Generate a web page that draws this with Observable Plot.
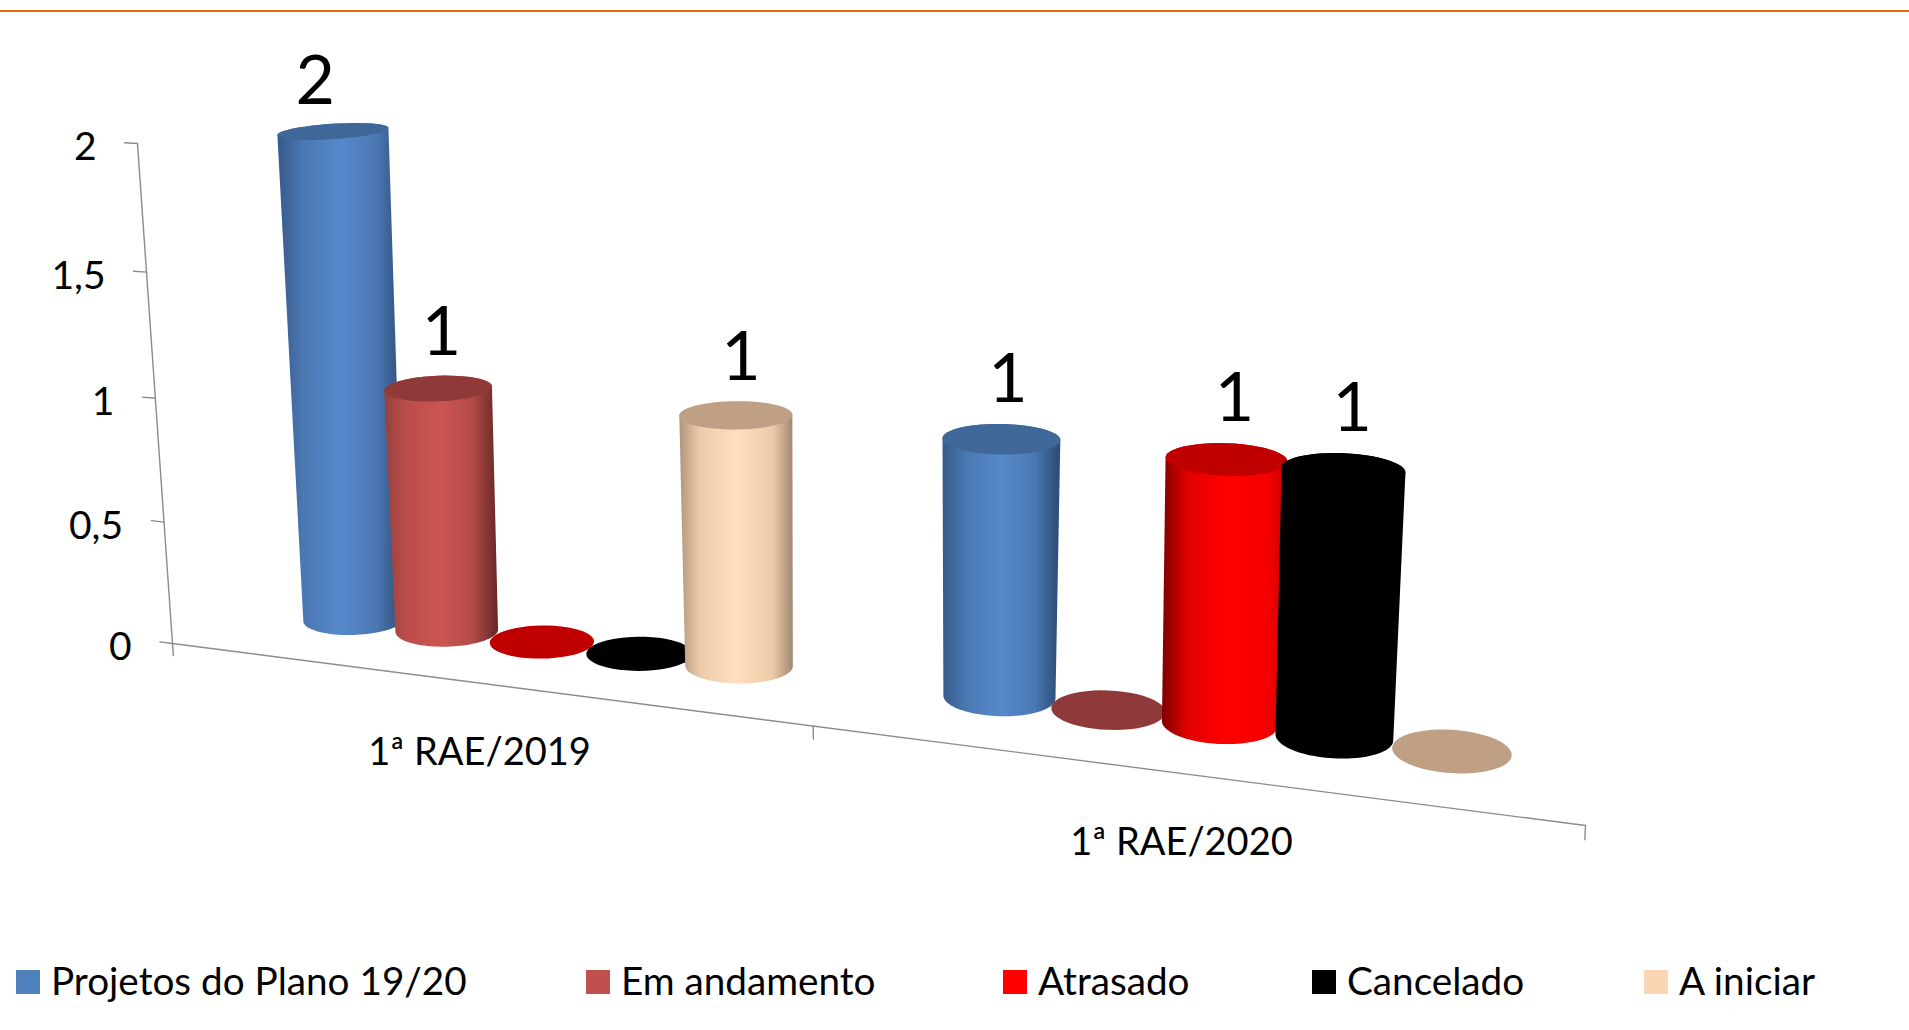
<!DOCTYPE html>
<html lang="pt">
<head>
<meta charset="utf-8">
<title>Projetos do Plano 19/20</title>
<script src="https://cdn.jsdelivr.net/npm/d3@7"></script>
<script src="https://cdn.jsdelivr.net/npm/@observablehq/plot@0.6"></script>
<style>
  html, body { margin: 0; padding: 0; background: #fff; overflow: hidden; }
  #page { position: relative; width: 1909px; height: 1030px; font-family: Lato, sans-serif; color: #000; }
  #rule { position: absolute; left: 0; top: 10px; width: 100%; height: 2px; background: #E36C09; }
  #chart svg { display: block; position: absolute; left: 0; top: 0; }
  .key { position: absolute; top: 970px; height: 24px; }
  .key i { position: absolute; left: 0; top: 0; width: 24px; height: 24px; }
  .key span { position: absolute; left: 35px; top: -12px; font-size: 38.7px; line-height: 44px; white-space: nowrap; }
</style>
</head>
<body>
<div id="page">
  <div id="chart"></div>
  <div id="rule"></div>
  <div id="legend"></div>
</div>
<script>
// ---- data ----
const categories = ["1ª RAE/2019", "1ª RAE/2020"];
const seriesNames = ["Projetos do Plano 19/20", "Em andamento", "Atrasado", "Cancelado", "A iniciar"];
const projetos = [2, 1];
const emAndamento = [1, 0];
const atrasado = [0, 1];
const cancelado = [0, 1];
const aIniciar = [1, 0];
const valueTicks = [0, 0.5, 1, 1.5, 2];
const valueTickLabels = ["0", "0,5", "1", "1,5", "2"];

// ---- styling ----
const seriesValues = [projetos, emAndamento, atrasado, cancelado, aIniciar];
const swatchColors = ["#4F81BD", "#C0504D", "#FF0000", "#000000", "#FCD5B5"];
const capColors = ["#3F6797", "#8F3A38", "#C00000", "#000000", "#BFA084"];
const gradients = [
  [[0, "#38598A"], [0.2, "#4A78B2"], [0.5, "#5689CC"], [0.78, "#4A78B2"], [1, "#2C4A73"]],
  [[0, "#96403E"], [0.2, "#BC4D4A"], [0.5, "#CC5552"], [0.78, "#B24A47"], [1, "#642725"]],
  [[0, "#800000"], [0.2, "#E00000"], [0.5, "#FF0000"], [0.85, "#F40000"], [1, "#C80000"]],
  [[0, "#000000"], [1, "#000000"]],
  [[0, "#B0967C"], [0.18, "#ECCBAB"], [0.5, "#FFDDBD"], [0.82, "#ECCBAB"], [1, "#A08A72"]]
];
const legendLeft = [16, 586, 1003, 1312, 1644];

// ---- camera: two planes of the 3-D scene, each one a homography ----
function quad(t0, t1, v0, v1, [p00, p10, p11, p01]) {
  const [x0, y0] = p00, [x1, y1] = p10, [x2, y2] = p11, [x3, y3] = p01;
  const dx1 = x1 - x2, dx2 = x3 - x2, sx = x0 - x1 + x2 - x3;
  const dy1 = y1 - y2, dy2 = y3 - y2, sy = y0 - y1 + y2 - y3;
  const den = dx1 * dy2 - dx2 * dy1;
  const g = (sx * dy2 - dx2 * sy) / den, h = (dx1 * sy - sx * dy1) / den;
  const a = x1 - x0 + g * x1, b = x3 - x0 + h * x3, c = x0;
  const d = y1 - y0 + g * y1, e = y3 - y0 + h * y3, f = y0;
  return (t, v) => {
    const u = (t - t0) / (t1 - t0), w = (v - v0) / (v1 - v0), k = g * u + h * w + 1;
    return [(a * u + b * w + c) / k, (d * u + e * w + f) / k];
  };
}
const barPlane = quad(1.25, 11.75, 0, 2, [[353, 619], [1451, 751], [1475, 198], [332, 131]]);
const wallPlane = quad(0, 13, 0, 2, [[172, 643], [1585, 825], [1610, 226], [137, 143]]);
const WALL = 100; // x channel values from here on belong to the wall/floor plane of the axes
const scene = d3.geoTransform({
  point(x, y) {
    const [px, py] = x >= WALL / 2 ? wallPlane(x - WALL, y) : barPlane(x, y);
    this.stream.point(px, py);
  }
});

// ---- slots along the category axis: 5 bars + 1.5 bar gap per category ----
const CATEGORY_SLOTS = 6.5;
const slot = (g, i) => g * CATEGORY_SLOTS + 1.25 + i;

// circle of the cylinder at (t, v), as seen through the camera
function rim(t, v, from, to, n = 48) {
  const a = (0.56 - 0.005 * t) * (1 + 0.03 * v);
  const b = (0.064 + 0.0015 * t) * (1 - 0.19 * v - 0.04 * v * v);
  const c = 0.066 - 0.0035 * t - 0.008 * v;
  return d3.range(n + 1).map((k) => {
    const th = from + (to - from) * k / n;
    const dt = a * Math.cos(th);
    return {t: t + dt, v: v + b * Math.sin(th) + c * dt};
  });
}

const bars = categories.flatMap((category, g) =>
  seriesNames.map((name, i) => ({category, name, i, t: slot(g, i), value: seriesValues[i][g]}))
).sort((p, q) => p.t - q.t);

const lineOpts = {x: "t", y: "v", curve: "linear", strokeWidth: 0};
const barMarks = bars.flatMap((d) => {
  const cap = rim(d.t, d.value, 0, 2 * Math.PI);
  const marks = [];
  if (d.value > 0) {
    const body = [...rim(d.t, d.value, 0, Math.PI), ...rim(d.t, 0, Math.PI, 2 * Math.PI)];
    marks.push(Plot.line(body, {...lineOpts, stroke: "none", fill: `url(#cyl${d.i})`}));
  }
  marks.push(Plot.line(cap, {...lineOpts, stroke: "none", fill: capColors[d.i]}));
  return marks;
});

// ---- axes, in the wall plane ----
const axisStyle = {x: "t", y: "v", curve: "linear", stroke: "#8C8C8C", strokeWidth: 1.4};
const wall = (t) => WALL + t;
const axisLines = [
  [[wall(0), 0], [wall(0), 2]],
  [[wall(0), 0], [wall(CATEGORY_SLOTS * categories.length), 0]],
  ...valueTicks.map((v) => [[wall(-0.14), v], [wall(0), v]]),
  ...d3.range(categories.length + 1).map((g) => [[wall(g * CATEGORY_SLOTS), 0], [wall(g * CATEGORY_SLOTS), -0.05]])
].map((seg) => seg.map(([t, v]) => ({t, v})));

const labels = bars.filter((d) => d.value > 0).map((d) => ({
  t: d.t + 0.06 - 0.22 * (d.value - 1),
  v: d.value + 0.225 - 0.035 * (d.value - 1),
  text: String(d.value)
}));

const defs = () => {
  const node = d3.create("svg:defs");
  gradients.forEach((stops, i) => {
    const lg = node.append("linearGradient").attr("id", `cyl${i}`).attr("x1", 0).attr("x2", 1).attr("y1", 0).attr("y2", 0);
    stops.forEach(([o, c]) => lg.append("stop").attr("offset", o).attr("stop-color", c));
  });
  return node.node();
};

const chart = Plot.plot({
  width: 1909,
  height: 950,
  margin: 0,
  projection: scene,
  style: {fontFamily: "Lato, sans-serif", background: "transparent", color: "#000"},
  marks: [
    defs,
    ...axisLines.map((seg) => Plot.line(seg, axisStyle)),
    Plot.text(valueTicks, {
      x: () => wall(0), y: (d) => d,
      text: (d, i) => valueTickLabels[i],
      textAnchor: "end", lineAnchor: "middle", dx: -41, dy: 4, fontSize: 39, fill: "#000"
    }),
    Plot.text(categories, {
      x: (d, g) => wall((g + 0.5) * CATEGORY_SLOTS), y: () => 0,
      text: (d) => d,
      textAnchor: "middle", lineAnchor: "middle", dy: 70, dx: 1, fontSize: 38, fill: "#000"
    }),
    ...barMarks,
    Plot.text(labels, {x: "t", y: "v", text: "text", textAnchor: "middle", lineAnchor: "middle", fontSize: 68, fill: "#000"})
  ]
});
document.getElementById("chart").append(chart);

// ---- legend ----
const legend = d3.select("#legend");
seriesNames.forEach((name, i) => {
  const item = legend.append("div").attr("class", "key").style("left", legendLeft[i] + "px");
  item.append("i").style("background", swatchColors[i]);
  item.append("span").text(name);
});
</script>
</body>
</html>
